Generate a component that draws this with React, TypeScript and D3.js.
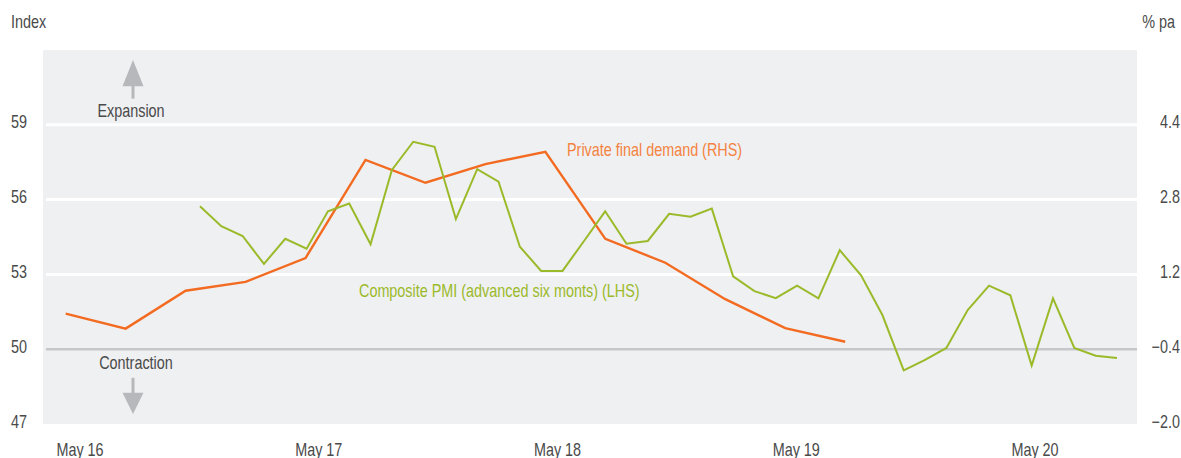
import React from 'react';
import * as d3 from 'd3';

const leftTicks = [47, 50, 53, 56, 59];
const rightTicks = [-2.0, -0.4, 1.2, 2.8, 4.4];
const xTickLabels = ['May 16', 'May 17', 'May 18', 'May 19', 'May 20'];
const xTickMonths = [0, 12, 24, 36, 48];

// Composite PMI (advanced six months), LHS, monthly
const pmi = [
  55.73, 54.93, 54.54, 53.42, 54.43, 54.03, 55.53, 55.84, 54.21, 57.19,
  58.32, 58.12, 55.22, 57.22, 56.72, 54.11, 53.14, 53.14, 54.33, 55.53,
  54.23, 54.34, 55.43, 55.31, 55.64, 52.92, 52.33, 52.05, 52.55, 52.04,
  53.97, 52.96, 51.37, 49.15, 49.57, 50.05, 51.57, 52.55, 52.16, 49.34,
  52.04, 50.05, 49.74, 49.65,
];
const pmiSpan = [6.03, 52.12]; // months since May 16

// Private final demand, RHS, quarterly
const pfd = [0.36, 0.04, 0.85, 1.04, 1.55, 3.65, 3.16, 3.56, 3.82, 1.96, 1.45, 0.67, 0.05, -0.24];
const pfdSpan = [-0.72, 38.46];

const W = 1181;
const H = 458;
const plot = { left: 43, right: 1137, top: 50, bottom: 424 };
const font = "'Liberation Sans', Arial, sans-serif";
const textColor = '#4a4a4a';
const orange = '#f26b21';
const green = '#9bba2a';
const arrowColor = '#b6b8bc';
const NARROW = 0.8;

function T({ x, y, anchor = 'start', fill = textColor, size = 18, children }: any) {
  return (
    <text
      transform={`translate(${x},${y}) scale(${NARROW},1)`}
      textAnchor={anchor}
      fontSize={size}
      fill={fill}
    >
      {children}
    </text>
  );
}

export default function App() {
  const x = d3.scaleLinear().domain([0, 48]).range([80, 1035]);
  const yL = d3.scaleLinear().domain([47, 62]).range([plot.bottom, plot.top]);
  const yR = d3.scaleLinear().domain([-2, 6]).range([plot.bottom, plot.top]);

  const pmiIdx = d3.scaleLinear().domain([0, pmi.length - 1]).range(pmiSpan);
  const pfdIdx = d3.scaleLinear().domain([0, pfd.length - 1]).range(pfdSpan);

  const pmiLine = d3
    .line<number>()
    .x((_, i) => x(pmiIdx(i)))
    .y((d) => yL(d));
  const pfdLine = d3
    .line<number>()
    .x((_, i) => x(pfdIdx(i)))
    .y((d) => yR(d));

  const arrowX = 133;
  const up = d3.path();
  up.moveTo(arrowX, yL(61.6));
  up.lineTo(arrowX + 10.5, yL(60.55));
  up.lineTo(arrowX - 10.5, yL(60.55));
  up.closePath();
  const down = d3.path();
  down.moveTo(arrowX, yL(47.4));
  down.lineTo(arrowX + 10.5, yL(48.25));
  down.lineTo(arrowX - 10.5, yL(48.25));
  down.closePath();

  return (
    <svg
      width={W}
      height={H}
      style={{ position: 'absolute', left: 0, top: 0, background: '#fff' }}
      fontFamily={font}
    >
      <rect
        x={plot.left}
        y={plot.top}
        width={plot.right - plot.left}
        height={plot.bottom - plot.top}
        fill="#eff0f2"
      />
      {leftTicks
        .filter((t) => t !== 47 && t !== 50)
        .map((t) => (
          <line key={t} x1={46} x2={plot.right} y1={yL(t)} y2={yL(t)} stroke="#ffffff" strokeWidth={3} />
        ))}
      <line x1={46} x2={plot.right} y1={yL(50)} y2={yL(50)} stroke="#c6c7ca" strokeWidth={2.5} />

      {/* arrows */}
      <line x1={arrowX} x2={arrowX} y1={yL(60.6)} y2={yL(60.05)} stroke={arrowColor} strokeWidth={3} />
      <path d={up.toString()} fill={arrowColor} />
      <line x1={arrowX} x2={arrowX} y1={yL(48.85)} y2={yL(48.2)} stroke={arrowColor} strokeWidth={3} />
      <path d={down.toString()} fill={arrowColor} />
      <T x={131} y={117} anchor="middle">Expansion</T>
      <T x={136} y={369} anchor="middle">Contraction</T>

      {/* series */}
      <path d={pfdLine(pfd) || ''} fill="none" stroke={orange} strokeWidth={2.4} strokeLinejoin="miter" />
      <path d={pmiLine(pmi) || ''} fill="none" stroke={green} strokeWidth={2} strokeLinejoin="miter" />

      <T x={567} y={156} fill="#f4833f">Private final demand (RHS)</T>
      <T x={359} y={297} fill={green}>Composite PMI (advanced six monts) (LHS)</T>

      {/* left axis */}
      <T x={11} y={28}>Index</T>
      {leftTicks.map((t) => (
        <T key={t} x={11} y={yL(t) + 3.5}>
          {t}
        </T>
      ))}

      {/* right axis */}
      <T x={1175} y={28} anchor="end">% pa</T>
      {rightTicks.map((t) => (
        <T key={t} x={1180} y={yR(t) + 3.5} anchor="end">
          {d3.format('.1f')(t).replace('-', '\u2013')}
        </T>
      ))}

      {/* x axis */}
      {xTickMonths.map((m, i) => (
        <T key={m} x={x(m)} y={456} anchor="middle">
          {xTickLabels[i]}
        </T>
      ))}
    </svg>
  );
}
